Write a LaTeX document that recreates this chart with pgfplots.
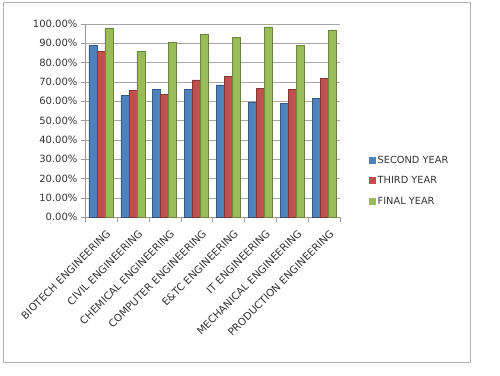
\documentclass[border=0pt]{standalone}
\usepackage{pgfplots}
\pgfplotsset{compat=1.18}
\usepackage{fontspec}
\setmainfont{DejaVu Sans}
\definecolor{sblue}{HTML}{4F81BD}
\definecolor{sred}{HTML}{C0504D}
\definecolor{sgreen}{HTML}{9BBB59}
\definecolor{txt}{HTML}{333333}
\begin{document}
\begin{tikzpicture}[x=1pt,y=1pt]
\path (0,0) rectangle (500,375);
\draw[gray!60, line width=1pt] (3,13) rectangle (470,372);
\begin{axis}[
  at={(85pt,158pt)}, anchor=south west,
  scale only axis, width=255pt, height=193pt,
  ymin=0, ymax=100, xmin=-0.5, xmax=7.5,
  ybar=0pt, bar width=8pt,
  axis x line*=bottom, axis y line*=left,
  axis line style={gray!80},
  tick align=outside,
  ytick={0,10,...,100},
  yticklabels={0.00\%,10.00\%,20.00\%,30.00\%,40.00\%,50.00\%,60.00\%,70.00\%,80.00\%,90.00\%,100.00\%},
  xtick={0,...,7},
  xticklabels={BIOTECH ENGINEERING,CIVIL ENGINEERING,CHEMICAL ENGINEERING,COMPUTER ENGINEERING,E\&TC ENGINEERING,IT ENGINEERING,MECHANICAL ENGINEERING,PRODUCTION ENGINEERING},
  major x tick style={draw=none},
  minor xtick={-0.5,0.5,...,7.5},
  minor tick length=5pt,
  major tick length=4pt,
  tick style={gray!80},
  ymajorgrids, grid style={gray!70},
  y tick label style={font=\fontsize{10}{12}\selectfont, text=txt},
  x tick label style={rotate=45, anchor=north east, font=\fontsize{10.3}{12}\selectfont, text=txt, inner sep=1pt, yshift=-8pt, xshift=-1pt},
  legend style={at={(1.10,0.187)}, anchor=west, draw=none, fill=none, font=\fontsize{9.8}{12}\selectfont, text=txt, row sep=8pt},
  legend cell align=left,
  legend image code/.code={\path[#1,draw=none] (0pt,-3.5pt) rectangle (7pt,3.5pt);},
]
\addplot[fill=sblue, draw=sblue!70!black] coordinates {(0,89) (1,63) (2,66) (3,66) (4,68.5) (5,59.5) (6,59) (7,61.5)};
\addplot[fill=sred, draw=sred!70!black] coordinates {(0,86) (1,65.5) (2,63.5) (3,71) (4,73) (5,66.5) (6,66) (7,72)};
\addplot[fill=sgreen, draw=sgreen!70!black] coordinates {(0,98) (1,86) (2,90.5) (3,94.5) (4,93) (5,98.5) (6,89) (7,97)};
\legend{SECOND YEAR,THIRD YEAR,FINAL YEAR}
\end{axis}
\end{tikzpicture}
\end{document}
